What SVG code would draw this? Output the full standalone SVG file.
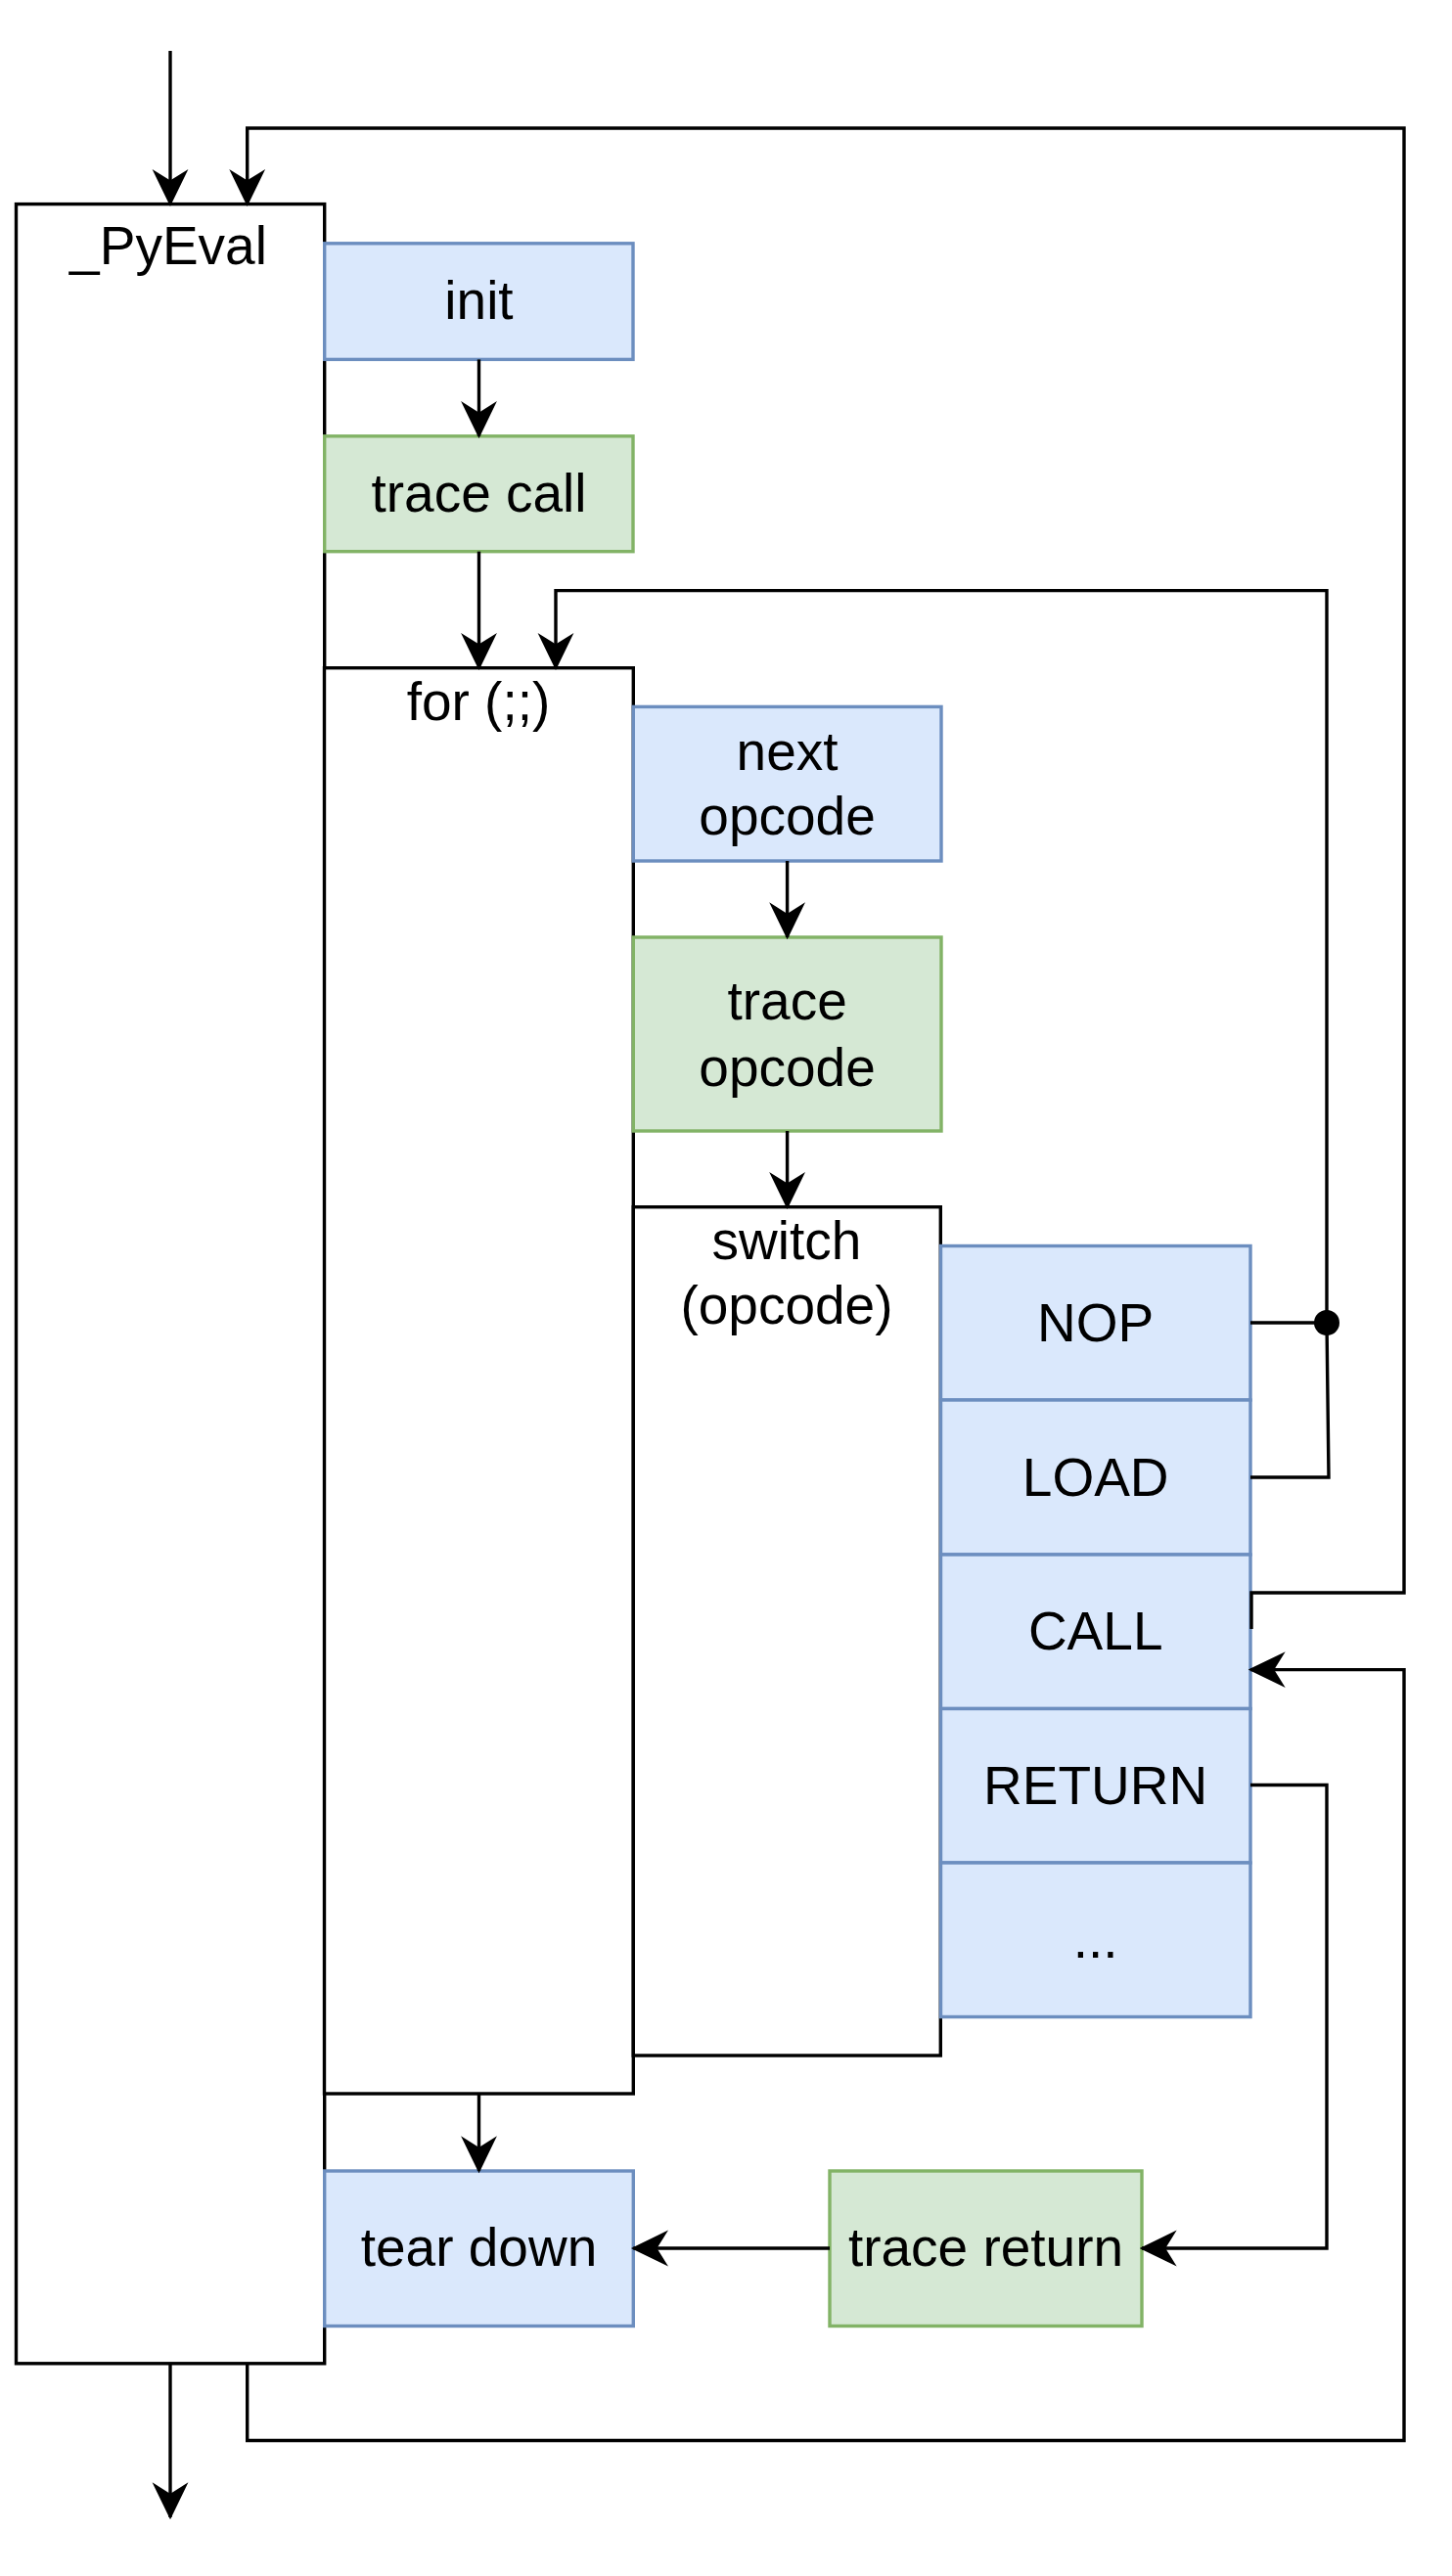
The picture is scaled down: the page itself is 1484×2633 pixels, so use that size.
<svg xmlns="http://www.w3.org/2000/svg" width="1484" height="2633" viewBox="0 0 1484 2633">
<style>
.c{fill:#fff;stroke:#000;stroke-width:3.4}
.b{fill:#dae8fc;stroke:#6c8ebf;stroke-width:3.4}
.g{fill:#d5e8d4;stroke:#82b366;stroke-width:3.4}
.t{font-family:"Liberation Sans",Arial,Helvetica,sans-serif;font-size:55px;fill:#000;text-anchor:middle}
.e{fill:none;stroke:#000;stroke-width:3.4}
.a{marker-end:url(#arr)}
</style>
<defs>
<marker id="arr" viewBox="-40 -20 44 40" refX="0" refY="0" markerWidth="44" markerHeight="40" markerUnits="userSpaceOnUse" orient="auto">
<path d="M0,0 L-33,-16 L-23,0 L-33,16 Z" fill="#000" stroke="#000" stroke-width="2"/>
</marker>
</defs>
<rect width="1484" height="2633" fill="#fff"/>
<g id="pyeval"><rect class="c" x="16.5" y="208.6" width="315.2" height="2207.2"/><text class="t" x="172" y="270">_PyEval</text></g>
<g id="forloop"><rect class="c" x="331.5" y="682.7" width="315.8" height="1457.3"/><text class="t" x="489" y="736">for (;;)</text></g>
<g id="switch"><rect class="c" x="647.3" y="1233.7" width="314" height="867.3"/><text class="t" x="804" y="1287">switch</text><text class="t" x="804" y="1353">(opcode)</text></g>
<g id="init"><rect class="b" x="331.7" y="248.8" width="315.3" height="118.6"/><text class="t" x="489.5" y="326">init</text></g>
<g id="tracecall"><rect class="g" x="331.7" y="445.8" width="315.3" height="117.9"/><text class="t" x="489.5" y="523">trace call</text></g>
<g id="nextopcode"><rect class="b" x="647.3" y="722.4" width="314.7" height="157.6"/><text class="t" x="804.6" y="787">next</text><text class="t" x="804.6" y="853">opcode</text></g>
<g id="traceopcode"><rect class="g" x="647.3" y="958" width="314.7" height="198"/><text class="t" x="804.6" y="1042">trace</text><text class="t" x="804.6" y="1110">opcode</text></g>
<g id="nop"><rect class="b" x="961.5" y="1273.5" width="316.5" height="157.5"/><text class="t" x="1119.7" y="1371">NOP</text></g>
<g id="load"><rect class="b" x="961.5" y="1431" width="316.5" height="158"/><text class="t" x="1119.7" y="1529">LOAD</text></g>
<g id="call"><rect class="b" x="961.5" y="1589" width="316.5" height="157.5"/><text class="t" x="1119.7" y="1686">CALL</text></g>
<g id="return"><rect class="b" x="961.5" y="1746.5" width="316.5" height="157.5"/><text class="t" x="1119.7" y="1844">RETURN</text></g>
<g id="more"><rect class="b" x="961.5" y="1904" width="316.5" height="157.5"/><text class="t" x="1119.7" y="2001">...</text></g>
<g id="teardown"><rect class="b" x="331.7" y="2219" width="315.6" height="158.5"/><text class="t" x="489.5" y="2316">tear down</text></g>
<g id="tracereturn"><rect class="g" x="848" y="2219" width="319" height="158.5"/><text class="t" x="1007.5" y="2316">trace return</text></g>
<g id="connectors">
<path class="e a" d="M174,52 V208.6"/>
<path class="e a" d="M489.5,367.4 V445.8"/>
<path class="e a" d="M489.5,563.7 V682.7"/>
<path class="e a" d="M804.6,880 V958"/>
<path class="e a" d="M804.6,1156 V1233.7"/>
<path class="e a" d="M1278,1352 H1356 V603.6 H568 V682.7"/>
<path class="e" d="M1278,1510 H1358 L1356,1352"/>
<circle cx="1356" cy="1352" r="13" fill="#000"/>
<path class="e a" d="M1279,1665 V1628 H1435 V131 H252.7 V208.6"/>
<path class="e a" d="M252.7,2415.8 V2494.5 H1435 V1706.6 H1278"/>
<path class="e a" d="M1278,1824.5 H1356 V2298 H1167"/>
<path class="e a" d="M848,2298 H647.3"/>
<path class="e a" d="M489.5,2140 V2219"/>
<path class="e a" d="M174,2415.8 V2573"/>
</g>
</svg>
